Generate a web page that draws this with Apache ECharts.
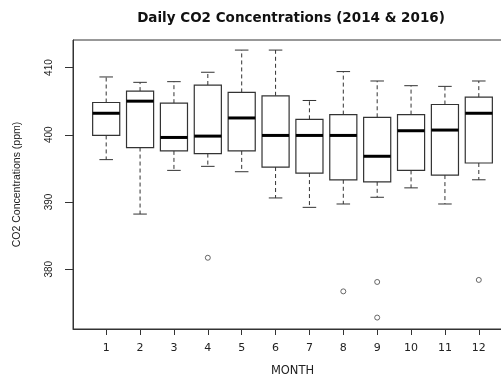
<!DOCTYPE html>
<html>
<head>
<meta charset="utf-8">
<script src="https://cdn.jsdelivr.net/npm/echarts@6/dist/echarts.min.js"></script>
<style>
  html, body { margin: 0; padding: 0; background: #fff; }
  #chart { width: 501px; height: 375px; }
</style>
</head>
<body>
<div id="chart"></div>
<script>
// Monthly CO2 box statistics (ppm)
const months      = [1, 2, 3, 4, 5, 6, 7, 8, 9, 10, 11, 12];
const whiskerLow  = [396.3, 388.2, 394.7, 395.3, 394.5, 390.6, 389.2, 389.7, 390.7, 392.1, 389.7, 393.3];
const lowerQuart  = [399.9, 398.1, 397.6, 397.2, 397.6, 395.2, 394.3, 393.3, 393.0, 394.7, 394.0, 395.8];
const medians     = [403.2, 405.0, 399.6, 399.8, 402.5, 399.9, 399.9, 399.9, 396.8, 400.6, 400.7, 403.2];
const upperQuart  = [404.8, 406.5, 404.7, 407.4, 406.3, 405.8, 402.3, 403.0, 402.6, 403.0, 404.5, 405.6];
const whiskerHigh = [408.6, 407.8, 407.9, 409.3, 412.6, 412.6, 405.1, 409.4, 408.0, 407.3, 407.2, 408.0];
// Outlying daily readings: [month, ppm]
const outliers    = [[4, 381.7], [8, 376.7], [9, 378.1], [9, 372.8], [12, 378.4]];
const yTicks      = [380, 390, 400, 410];

const boxData = months.map((m, i) => [m, whiskerLow[i], lowerQuart[i], medians[i], upperQuart[i], whiskerHigh[i]]);

const lineCol = '#333';
const wideFont = 'DejaVu Sans, Verdana, sans-serif';
const narrowFont = 'Liberation Sans, Arial, sans-serif';

function renderBox(params, api) {
  const x = api.value(0);
  const pLo  = api.coord([x, api.value(1)]);
  const pQ1  = api.coord([x, api.value(2)]);
  const pMed = api.coord([x, api.value(3)]);
  const pQ3  = api.coord([x, api.value(4)]);
  const pHi  = api.coord([x, api.value(5)]);
  const half = api.size([0.4, 0])[0];
  const cx = pMed[0];
  const capHalf = half / 2;
  const dashed = { stroke: lineCol, lineWidth: 1, lineDash: [4, 3] };
  const solid = { stroke: lineCol, lineWidth: 1 };
  return {
    type: 'group',
    children: [
      { type: 'line', shape: { x1: cx, y1: pQ3[1], x2: cx, y2: pHi[1] }, style: dashed },
      { type: 'line', shape: { x1: cx, y1: pQ1[1], x2: cx, y2: pLo[1] }, style: dashed },
      { type: 'line', shape: { x1: cx - capHalf, y1: pHi[1], x2: cx + capHalf, y2: pHi[1] }, style: solid },
      { type: 'line', shape: { x1: cx - capHalf, y1: pLo[1], x2: cx + capHalf, y2: pLo[1] }, style: solid },
      { type: 'rect', shape: { x: cx - half, y: pQ3[1], width: 2 * half, height: pQ1[1] - pQ3[1] },
        style: { fill: '#fff', stroke: lineCol, lineWidth: 1.2 } },
      { type: 'line', shape: { x1: cx - half, y1: pMed[1], x2: cx + half, y2: pMed[1] },
        style: { stroke: '#000', lineWidth: 3 } }
    ]
  };
}

const chart = echarts.init(document.getElementById('chart'), null, { renderer: 'canvas' });
chart.setOption({
  animation: false,
  backgroundColor: '#fff',
  textStyle: { fontFamily: narrowFont },
  title: {
    text: 'Daily CO2 Concentrations (2014 & 2016)',
    left: 286,
    top: 6,
    textAlign: 'center',
    textStyle: { fontSize: 13.5, fontWeight: 'bold', color: '#111', fontFamily: wideFont }
  },
  grid: {
    left: 73, top: 40, right: -11, bottom: 46,
    outerBoundsMode: 'none',
    containLabel: false,
    show: true, borderColor: lineCol, borderWidth: 1, backgroundColor: 'transparent'
  },
  xAxis: {
    type: 'value',
    min: 0.02, max: 12.98,
    name: 'MONTH',
    nameLocation: 'middle',
    nameGap: 36,
    nameTextStyle: { fontSize: 11.5, color: '#222', fontFamily: wideFont },
    axisLine: { show: true, lineStyle: { color: lineCol } },
    axisTick: { show: true, length: 6, customValues: months, lineStyle: { color: lineCol } },
    axisLabel: { customValues: months, margin: 14, fontSize: 11, color: '#222', fontFamily: wideFont },
    splitLine: { show: false }
  },
  yAxis: {
    type: 'value',
    min: 371.1, max: 414.1,
    name: 'CO2 Concentrations (ppm)',
    nameLocation: 'middle',
    nameGap: 50,
    nameRotate: 90,
    nameTextStyle: { fontSize: 10.5, color: '#222', fontFamily: narrowFont },
    axisLine: { show: true, lineStyle: { color: lineCol } },
    axisTick: { show: true, length: 8, customValues: yTicks, lineStyle: { color: lineCol } },
    axisLabel: { customValues: yTicks, rotate: 90, margin: 19, fontSize: 10, color: '#222', fontFamily: narrowFont },
    splitLine: { show: false }
  },
  series: [
    {
      type: 'custom',
      renderItem: renderBox,
      data: boxData,
      encode: { x: 0, y: [1, 2, 3, 4, 5] },
      z: 2
    },
    {
      type: 'scatter',
      data: outliers,
      symbol: 'circle',
      symbolSize: 5,
      itemStyle: { color: '#fff', borderColor: '#444', borderWidth: 1 },
      z: 3
    }
  ]
});
</script>
</body>
</html>
